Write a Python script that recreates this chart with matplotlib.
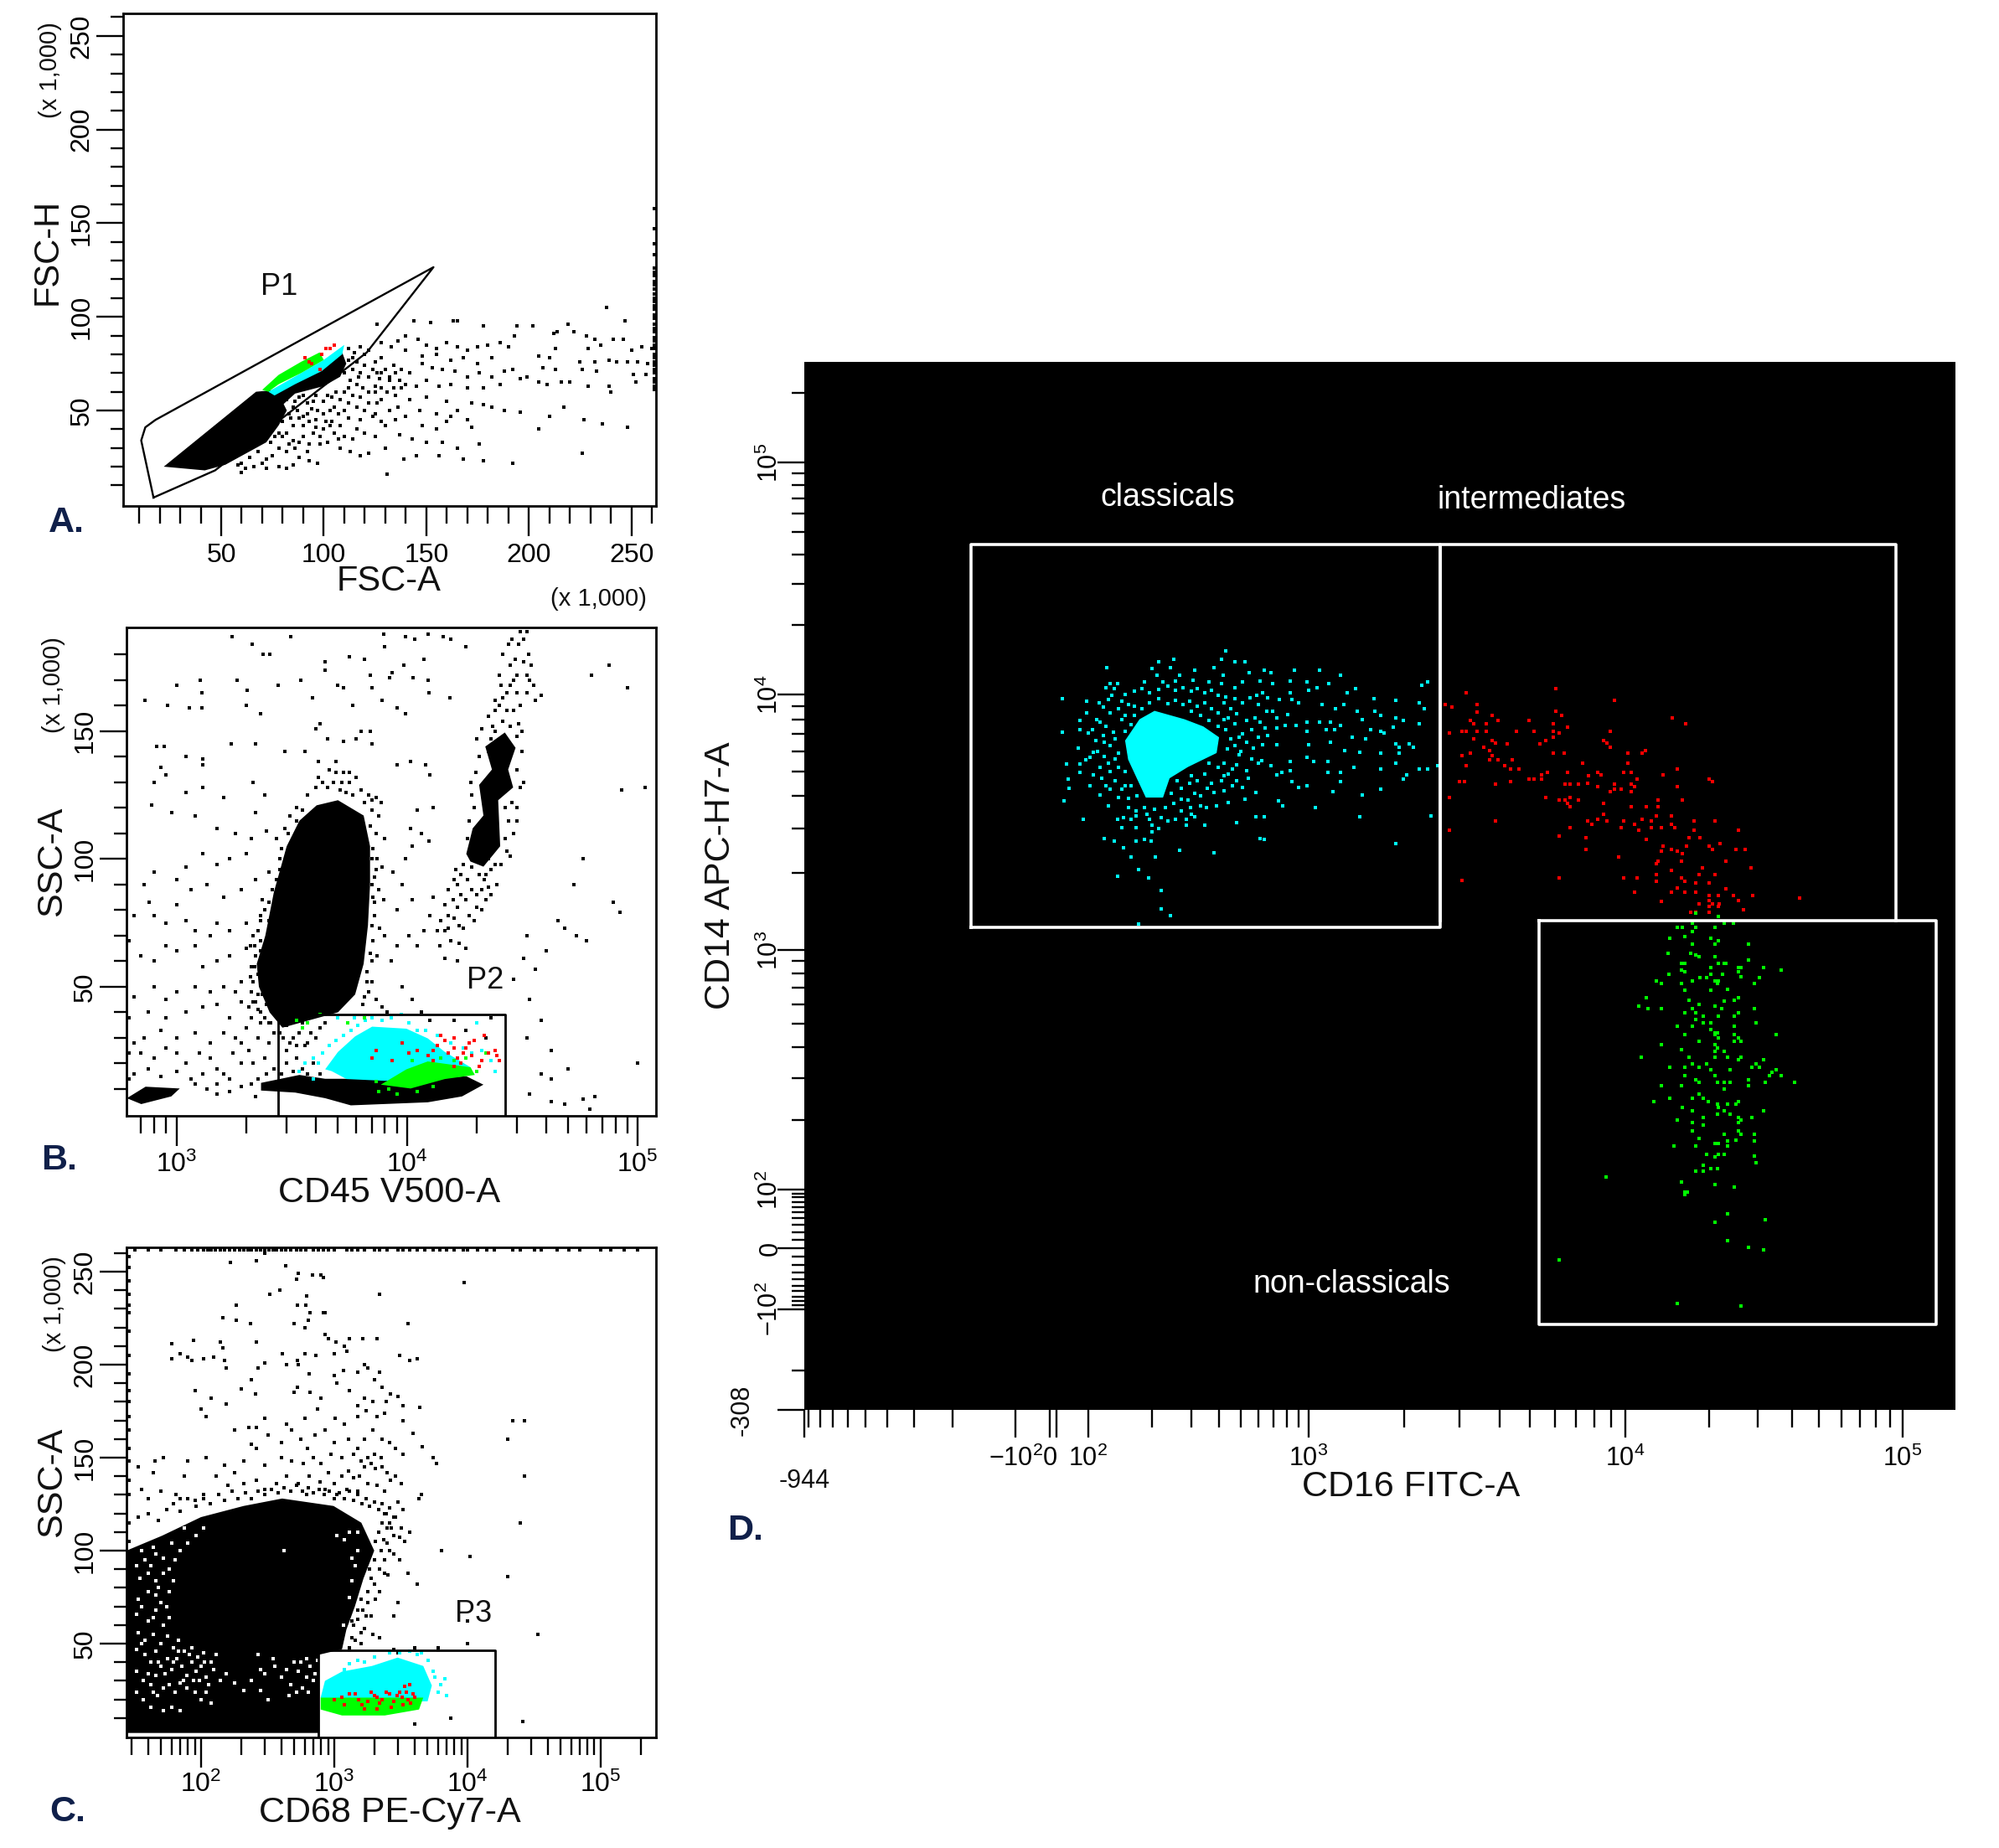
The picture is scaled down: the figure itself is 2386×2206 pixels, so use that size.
# flow cytometry gating figure, panels A-D
import numpy as np
import matplotlib
matplotlib.use('Agg')
import matplotlib.pyplot as plt

plt.rcParams['font.family'] = ['Liberation Sans', 'DejaVu Sans']
plt.rcParams['mathtext.fontset'] = 'custom'
plt.rcParams['mathtext.rm'] = 'Liberation Sans'
plt.rcParams['mathtext.default'] = 'regular'

W, H = 2386, 2206

# ---------- panel A : FSC-A / FSC-H (x 1,000)
a_ticks = [50, 100, 150, 200, 250]
a_minor = [10, 20, 30, 40, 60, 70, 80, 90, 110, 120, 130, 140, 160, 170, 180, 190, 210, 220, 230, 240, 260]
a_gate = [(17, 3.5), (47, 18), (121, 81), (153.5, 126.5), (18, 45), (13, 41), (11, 34), (17, 3.5)]
a_solid1 = [(22, 20), (67, 60), (77, 61), (82, 50), (78, 42), (72, 33), (67, 30), (52, 21), (42, 18)]
a_solid2 = [(73, 60), (86, 65), (99, 72), (109, 81), (111, 75), (108, 68), (100, 63), (86, 59), (77, 50)]
a_green = [(70, 61), (78, 69), (89, 76), (98, 81), (100, 77), (89, 70), (78, 64), (73, 60)]
a_cyan = [(73, 60), (89, 70), (100, 77), (110, 85), (109, 80), (99, 71), (86, 64), (76, 58)]
a_red = [(91, 78), (94, 75), (98, 72), (99, 80), (101, 83), (103, 83), (105, 85), (93, 76)]
a_edge = [61, 63, 65, 67, 70, 72, 74, 76, 78, 80, 83, 85, 87, 89, 92, 94, 96, 99, 101, 104, 106, 108, 110, 112,
          115, 117, 119, 122, 124, 126, 133, 139, 147, 158]
a_events = [(126, 96), (144, 98), (152, 97), (163, 98), (165, 98), (178, 95), (194, 95), (202, 95), (219, 96),
            (238, 105), (247, 98), (212, 91), (214, 92), (222, 92), (228, 90), (232, 88), (241, 88), (246, 88),
            (213, 83), (229, 83), (235, 85), (250, 82), (255, 84), (260, 83), (205, 79), (210, 78), (225, 76),
            (232, 76), (239, 77), (243, 76), (248, 76), (253, 76), (258, 75), (207, 73), (213, 72), (226, 72),
            (233, 71), (251, 69), (257, 69), (205, 65), (209, 64), (216, 65), (220, 65), (229, 63), (239, 63),
            (252, 65), (217, 52), (210, 47), (227, 45), (236, 43), (240, 60), (205, 40), (248, 41), (226, 27),
            (192, 22), (178, 23), (168, 24), (156, 26), (145, 26), (139, 24), (131, 16),
            (136, 87), (140, 90), (146, 88), (150, 85), (155, 83), (160, 86), (165, 84), (170, 82), (175, 84),
            (180, 85), (186, 86), (190, 84), (193, 90), (182, 78), (175, 75), (168, 78), (162, 77), (155, 80),
            (148, 79), (140, 82), (133, 84), (128, 86), (128, 78), (134, 74), (138, 72), (142, 70), (148, 75),
            (153, 73), (158, 72), (164, 71), (170, 68), (176, 70), (182, 68), (188, 71), (192, 72), (196, 67),
            (199, 68), (186, 64), (178, 62), (170, 62), (162, 64), (156, 63), (150, 66), (145, 63), (138, 62),
            (132, 66), (128, 70), (125, 60), (135, 58), (142, 56), (150, 57), (160, 55), (165, 50), (172, 54),
            (178, 53), (182, 52), (188, 50), (196, 49), (170, 45), (162, 47), (155, 48), (147, 50), (140, 47),
            (135, 45), (130, 42), (125, 48), (148, 42), (155, 40), (160, 44), (172, 41), (137, 37), (143, 35),
            (150, 33), (158, 33), (165, 30), (176, 32), (130, 30), (125, 36),
            (112, 83), (115, 81), (118, 84), (120, 80), (122, 82), (125, 76), (114, 72), (116, 76), (118, 70),
            (120, 74), (122, 68), (124, 72), (127, 67), (130, 72), (132, 68), (135, 70), (113, 66), (116, 64),
            (119, 62), (122, 60), (125, 63), (128, 56), (131, 60), (134, 62), (137, 66), (140, 64), (110, 60),
            (108, 56), (105, 52), (100, 55), (96, 58), (92, 54), (88, 57), (85, 52), (82, 56), (112, 54),
            (116, 52), (120, 50), (124, 47), (128, 44), (132, 50), (136, 52), (100, 48), (96, 45), (92, 48),
            (88, 46), (85, 42), (80, 44), (104, 44), (108, 42), (112, 46), (116, 40), (120, 38), (110, 36),
            (105, 38), (100, 40), (95, 38), (90, 36), (85, 34), (82, 38), (78, 38), (75, 42), (78, 30), (82, 28),
            (86, 30), (92, 28), (98, 32), (102, 33), (108, 30), (113, 28), (118, 26), (122, 27), (88, 25),
            (93, 23), (97, 22), (75, 26), (72, 24), (70, 22), (66, 20), (62, 19), (60, 17), (58, 21), (85, 21),
            (82, 19), (78, 20), (72, 19), (103, 50), (107, 48), (94, 51), (90, 42), (98, 36), (103, 42),
            (80, 36), (84, 46), (87, 50), (90, 47), (93, 44), (97, 50), (101, 44), (104, 57), (110, 50), (114, 58),
            (118, 57), (122, 54), (112, 62), (106, 60), (102, 58), (95, 55), (90, 58), (86, 55), (83, 48), (78, 46),
            (76, 36), (74, 33), (68, 28), (64, 25), (60, 22), (83, 32), (88, 33), (93, 32), (96, 41), (107, 35),
            (114, 35), (118, 45), (126, 54), (128, 62), (117, 68), (112, 77), (110, 70), (114, 78), (126, 70)]

# ---------- panel B : CD45 V500-A / SSC-A
b_ticks = [1000, 10000, 100000]
b_labels = ['$10^3$', '$10^4$', '$10^5$']
b_minor = [700, 800, 900, 2000, 3000, 4000, 5000, 6000, 7000, 8000, 9000, 20000, 30000, 40000, 50000, 60000, 70000, 80000, 90000]
b_yticks = [50, 100, 150]
b_yminor = [10, 20, 30, 40, 60, 70, 80, 90, 110, 120, 130, 140, 160, 170, 180]
b_gate = [(2755, -1), (2755, 39), (26500, 39), (26500, -1)]
b_main = [(5003, 123), (6467, 117), (6894, 105), (6894, 90), (6750, 74), (6467, 59), (5940, 47), (5003, 40), (2873, 34),
          (2527, 40), (2271, 50), (2223, 59), (2421, 70), (2637, 87), (2998, 105), (3406, 115), (4043, 121)]
b_band = [(2320, 12.4), (3406, 15.5), (4403, 14), (8010, 14), (12274, 14), (18030, 15), (21400, 11.7), (17280, 7.1),
          (12274, 4.8), (5690, 3.6), (4403, 6.4), (3265, 8.6), (2320, 9.4)]
b_left = [(607, 6.4), (732, 10.9), (1030, 10.2), (946, 7.1), (701, 4.1)]
b_tail = [(18030, 102), (19230, 112), (21400, 117), (20500, 129), (23300, 135), (21800, 144), (26500, 149.5), (29500, 143.5),
          (27400, 135), (28800, 128), (24800, 123), (25300, 105), (21400, 97), (18800, 99)]
b_cyan = [(4403, 17.7), (5003, 24.5), (5940, 30.6), (7040, 34.4), (9915, 33.6), (12274, 29.8), (14560, 24.5), (18820, 18.5),
          (18030, 15.5), (8010, 13.2), (5450, 13.9), (4695, 17)]
b_green = [(7674, 11.7), (9915, 17.7), (12274, 20.8), (18820, 18.5), (19640, 15.5), (14560, 13.9), (10340, 10.2)]
b_red = [(12300, 23), (12900, 25), (13500, 27), (14500, 29), (15000, 24), (15900, 26), (16500, 22), (17000, 20), (17500, 24),
         (18000, 26), (18500, 28), (19000, 23), (20500, 19), (21000, 21), (22500, 24), (24000, 25), (24500, 23),
         (25000, 21), (11000, 25), (10200, 24), (9500, 28), (8600, 21), (7300, 25), (7000, 22), (14000, 31), (16000, 30),
         (19500, 29), (21500, 31), (13000, 21), (16000, 19)]
b_cyan_extra = [(3900, 22), (4100, 20), (4300, 24), (3600, 20), (3400, 17), (4600, 27), (4900, 29), (5300, 31), (5700, 33), (6100, 35), (6600, 37), (7000, 38),
                (7800, 37), (8500, 38), (9400, 39), (10200, 36), (11000, 33), (12000, 33), (13500, 31), (15500, 28), (17500, 26), (19000, 24), (21000, 25),
                (23000, 21), (24000, 17), (3900, 14), (5000, 38), (5900, 38), (20000, 36)]
b_green_extra = [(3300, 37), (3700, 36), (3500, 34), (4200, 39), (5500, 36), (6500, 38), (7300, 13), (7500, 9), (8300, 10), (9000, 8), (11000, 9), (13000, 11),
                 (14000, 22), (16000, 21), (18000, 22), (20000, 17), (22000, 24), (10500, 21)]
b_events = [(1730, 187), (3130, 187), (2130, 184), (2360, 180), (2530, 180), (4400, 177), (5600, 179), (4400, 174), (6500, 178),
            (7900, 188), (8000, 183), (10800, 186), (9800, 187), (12300, 188), (14300, 187), (15500, 186), (18000, 183),
            (8600, 173), (6900, 172), (9700, 176), (11800, 178), (5000, 168), (1260, 170), (1280, 165), (1820, 170),
            (2020, 166), (2750, 168), (3450, 170), (3880, 163), (7000, 167), (8400, 171), (10600, 171), (12300, 170),
            (12400, 165), (15300, 163), (1000, 168), (730, 162), (910, 160), (1130, 159), (1280, 159), (2000, 160),
            (2300, 157), (5300, 167), (5800, 160), (7800, 162), (9000, 159), (9800, 157), (4200, 153), (4000, 151),
            (4500, 147), (5300, 146), (6000, 147), (6300, 150), (6900, 150), (7000, 145), (820, 144), (880, 144),
            (1100, 140), (1300, 139), (1300, 137), (1720, 145), (2200, 145), (2950, 142), (3600, 142), (4100, 138),
            (9000, 137), (10300, 138), (12000, 137), (12500, 133), (38000, 164), (63000, 172), (90000, 167), (75000, 176),
            (108000, 128), (85000, 127), (58000, 100), (53000, 90), (78000, 83), (84000, 79), (45000, 76), (48000, 73),
            (54000, 70), (60000, 68), (33000, 70), (40000, 64), (32000, 61), (36000, 57), (29000, 53), (34000, 45),
            (38000, 37), (33000, 30), (42000, 25), (42000, 14), (42000, 5), (48000, 4), (58000, 6), (65000, 7), (34000, 8),
            (38000, 16), (50000, 18), (100000, 20), (62000, 2),
            # left sparse region
            (800, 130), (850, 136), (900, 133), (1100, 126), (1300, 128), (1600, 124), (2150, 130), (2400, 125), (2200, 118),
            (780, 121), (950, 118), (1200, 117), (1500, 112), (1800, 110), (2100, 108), (2450, 111), (2700, 108), (2800, 100),
            (2000, 102), (1700, 100), (1500, 98), (1300, 102), (1100, 97), (1000, 92), (800, 95), (720, 90), (760, 83),
            (1150, 88), (1350, 90), (1600, 85), (1900, 88), (2200, 92), (2500, 95), (1000, 82), (800, 78), (900, 75),
            (650, 78), (1100, 76), (1200, 72), (1400, 70), (1500, 75), (1700, 72), (2000, 75), (2300, 78), (2500, 83),
            (620, 68), (700, 62), (800, 60), (900, 66), (1000, 64), (1200, 66), (1300, 58), (1500, 60), (1700, 62), (2000, 65),
            (2150, 70), (2300, 68), (2200, 62), (2400, 65), (2100, 58), (2250, 55), (1900, 52), (1800, 48), (1600, 50), (1400, 48),
            (1200, 50), (1000, 48), (900, 45), (800, 50), (650, 46), (620, 38), (750, 40), (900, 38), (1100, 40), (1300, 42),
            (1500, 43), (1700, 38), (1900, 44), (2050, 42), (2200, 44), (2350, 47), (2450, 43), (2100, 38), (2300, 36),
            (2500, 36), (2000, 34), (1800, 30), (1600, 32), (1400, 28), (1200, 32), (1000, 30), (850, 33), (720, 30),
            (650, 28), (620, 24), (700, 24), (800, 22), (900, 26), (1000, 24), (1100, 20), (1250, 24), (1400, 22), (1500, 18),
            (1600, 16), (1750, 24), (1900, 28), (2050, 25), (2250, 30), (2500, 28), (2650, 32), (2400, 22), (2150, 20),
            (1900, 20), (1700, 14), (1500, 12), (1300, 16), (1150, 14), (1000, 17), (850, 15), (750, 18), (650, 16), (620, 14),
            (1200, 12), (1350, 10), (1500, 8), (1700, 9), (1900, 11), (2100, 12), (2250, 14), (2450, 16), (2650, 18), (2200, 7),
            # around the teardrop and inside the gate
            (4600, 135), (4900, 138), (5300, 134), (5600, 130), (6000, 132), (4300, 130), (4000, 128), (3700, 125), (3300, 120),
            (3100, 117), (2950, 112), (4800, 130), (5100, 127), (5400, 126), (5800, 125), (6300, 127), (6800, 125), (7300, 124),
            (7700, 122), (7000, 119), (7500, 117), (6900, 113), (7300, 110), (8000, 108), (7100, 104), (7400, 100), (7800, 97),
            (7200, 93), (7500, 88), (7900, 84), (7100, 85), (7200, 78), (7600, 73), (8000, 70), (7100, 68), (7400, 62),
            (6900, 63), (6700, 56), (7000, 52), (6800, 48), (7300, 45), (7800, 42), (8200, 40), (6400, 43), (2620, 80),
            (2500, 76), (2400, 80), (2300, 76), (2250, 72), (2350, 84), (2180, 66), (2090, 66), (2180, 58), (2090, 54),
            (2100, 48), (2150, 44), (2250, 41), (2400, 38), (2550, 36), (2800, 32), (3000, 35), (3200, 30), (3500, 36),
            (3800, 32), (4200, 34), (3000, 25), (3300, 22), (3600, 27), (3900, 20), (3200, 17), (3500, 18), (2850, 16),
            (8500, 60), (9500, 50), (10500, 45), (11500, 40), (12500, 37), (16000, 37), (18000, 33), (22000, 30), (23000, 38),
            (9000, 66), (10200, 70), (11000, 66), (11800, 72), (12500, 78), (13000, 85), (10500, 84), (9000, 80), (9500, 90),
            (8700, 95), (9800, 100), (10500, 105), (11500, 110), (12400, 107), (10300, 112), (11000, 119), (13000, 120),
            (4100, 132), (4500, 128), (4900, 134), (5200, 130), (5600, 134), (6500, 122), (7000, 123), (3500, 119), (3300, 115),
            (3050, 110), (2850, 104), (2800, 96), (2700, 92), (2600, 88), (7000, 100), (7300, 96), (7000, 90), (7200, 83), (7000, 74),
            (7000, 60), (6700, 52), (6500, 46), (2500, 72), (2300, 64), (2150, 52), (2250, 47), (2300, 40), (2900, 30), (3100, 28),
            (3400, 32), (3700, 28), (4000, 30), (4400, 36), (3000, 20), (3300, 27), (3700, 16), (4200, 16), (3400, 13),
            # CD45 bright tail
            (14000, 76), (15000, 73), (16000, 77), (17500, 73), (19500, 76), (21000, 80), (14500, 82), (16500, 81), (18000, 84),
            (20000, 86), (22000, 84), (15000, 88), (16500, 90), (18200, 92), (20500, 94), (22500, 89), (16300, 96), (17500, 98),
            (15500, 68), (16800, 67), (18000, 65), (14500, 61), (16500, 60), (13800, 66), (21500, 92), (23000, 96), (24500, 90),
            (25500, 98), (27000, 103), (28000, 101), (26500, 108), (29000, 110), (27500, 115), (26500, 120), (30000, 115),
            (19500, 120), (18500, 115), (18200, 108), (19000, 125), (18800, 130), (19800, 134), (20500, 140), (20000, 147),
            (21000, 151), (22500, 156), (24000, 162), (25500, 168), (27000, 165), (29000, 158), (30500, 153), (31500, 150),
            (31000, 160), (33000, 165), (34000, 170), (30000, 172), (28000, 176), (26000, 180), (27500, 184), (29500, 178),
            (32000, 177), (33500, 180), (32000, 186), (30500, 184), (33000, 172), (25000, 172), (24000, 158), (23500, 152),
            (27000, 158), (26000, 154), (25000, 160), (31500, 142), (30000, 135), (31000, 128), (28500, 122), (30000, 120),
            (27500, 130), (32000, 130), (28500, 186), (31000, 189), (33000, 189), (34500, 176), (35500, 168), (36000, 162),
            (17000, 86), (15800, 84), (19000, 88), (21000, 88), (23000, 86), (18500, 78), (16800, 74), (15000, 78), (20000, 81),
            (22000, 94), (24000, 98), (17000, 94), (19000, 97), (16000, 92), (14500, 72), (13500, 72), (22500, 100), (24000, 106),
            (28000, 152), (30000, 148), (24000, 150), (26000, 163), (28000, 168), (30000, 165), (23000, 147), (22500, 142), (29000, 170)]

# ---------- panel C : CD68 PE-Cy7-A / SSC-A
c_ticks = [100, 1000, 10000, 100000]
c_labels = ['$10^2$', '$10^3$', '$10^4$', '$10^5$']
c_minor = [30, 40, 50, 60, 70, 80, 90, 200, 300, 400, 500, 600, 700, 800, 900, 2000, 3000, 4000, 5000, 6000, 7000, 8000, 9000,
           20000, 30000, 40000, 50000, 60000, 70000, 80000, 90000, 200000]
c_yticks = [50, 100, 150, 200, 250]
c_yminor = [10, 20, 30, 40, 60, 70, 80, 90, 110, 120, 130, 140, 160, 170, 180, 190, 210, 220, 230, 240, 260]
c_gate = [(764, -1), (764, 46.4), (16180, 46.4), (16180, -1)]
c_solid = [(27.6, 100), (51, 108), (100, 118), (209, 124), (407, 128), (989, 124), (1600, 115), (2000, 100), (1660, 85),
           (1431, 70), (1235, 57.5), (1146, 47), (764, 44), (764, 2), (27.6, 2)]
c_cyan = [(792, 21), (853, 30), (1146, 35), (1923, 38), (2998, 42.5), (4669, 38), (5415, 27.5), (5030, 19), (2400, 19), (853, 19)]
c_green = [(792, 21), (1146, 21), (2400, 21), (4669, 21), (4338, 14.6), (2400, 11.4), (1146, 11.4), (792, 14.6)]
c_red = [(1150, 21), (1300, 23), (1450, 23), (1530, 20), (1620, 17), (1700, 15), (1800, 19), (1900, 24), (2000, 22), (2100, 21),
         (2200, 18), (2300, 20), (2450, 24), (2600, 23), (2800, 19), (2950, 22), (3100, 24), (3250, 21), (3400, 27), (3500, 24),
         (3600, 20), (3750, 18), (3900, 23), (4050, 21), (1000, 20), (1200, 17), (2700, 16), (3300, 17), (2100, 15), (3700, 28)]
c_cyan_extra = [(5700, 32), (6300, 28), (7000, 22), (6000, 24), (5500, 35), (4200, 44), (3700, 46), (2600, 45), (2000, 43),
                (1700, 40), (1500, 41), (1300, 39), (1200, 36), (6800, 31), (5100, 41), (4500, 45), (3100, 45)]
c_top = [32, 40, 50, 65, 75, 85, 95, 105, 112, 120, 128, 140, 150, 165, 180, 195, 210, 225, 240, 260, 280, 300, 325, 350, 370, 400, 430, 470, 520, 560, 610,
         700, 760, 830, 900, 1000, 1250, 1350, 1500, 1700, 2000, 2200, 2500, 3000, 3300, 3700, 4200, 4800, 5500, 6200, 7000,
         8000, 9300, 10000, 12000, 14000, 16000, 22000, 25000, 32000, 36000, 47000, 58000, 70000, 100000, 120000, 150000, 190000]
c_left = [5, 8, 12, 18, 22, 30, 36, 42, 55, 62, 70, 85, 95, 105, 115, 130, 138, 148, 155, 165, 172, 180, 186, 195, 205, 218, 228, 232,
          238, 245, 252, 258]
c_events = [(167, 255), (300, 260), (262, 256), (435, 253), (540, 249), (520, 246), (690, 248), (800, 248), (830, 247), (9500, 244),
            (330, 238), (185, 232), (145, 225), (390, 240), (620, 237), (660, 228), (530, 232), (610, 232), (830, 228), (860, 228),
            (2200, 238), (185, 224), (235, 222), (500, 222), (600, 220), (640, 224), (3600, 222), (88, 213), (140, 212), (60, 211),
            (145, 209), (260, 212), (850, 216), (900, 214), (1030, 212), (1300, 214), (1650, 214), (2100, 214), (1200, 210),
            (1250, 207), (1000, 206), (410, 206), (530, 202), (60, 203), (70, 206), (80, 204), (85, 202), (105, 203), (125, 204),
            (150, 202), (155, 198), (270, 198), (300, 201), (440, 200), (540, 200), (600, 206), (730, 205), (1180, 197), (1800, 198),
            (3100, 205), (3700, 202), (4200, 203), (2200, 196), (1700, 200), (2000, 192), (1500, 196), (1000, 194), (650, 195), (530, 188),
            (240, 192), (200, 187), (255, 184), (500, 185), (660, 185), (800, 182), (1050, 190), (1300, 186), (1500, 178), (1700, 182),
            (1950, 180), (2300, 188), (2450, 180), (2650, 184), (3000, 183), (3300, 178), (4400, 177), (3300, 170), (2400, 174), (2100, 172),
            (1750, 175), (1500, 172), (1200, 168), (1020, 171), (750, 176), (600, 171), (440, 168), (300, 171), (260, 166), (230, 166),
            (90, 186), (120, 182), (100, 176), (110, 172), (155, 179), (180, 165), (240, 157), (260, 155), (320, 162), (400, 158),
            (480, 165), (560, 160), (630, 155), (720, 162), (850, 165), (1000, 158), (1280, 160), (1500, 155), (1700, 160), (1950, 165),
            (2300, 160), (2600, 158), (2900, 155), (3300, 152), (3900, 163), (4600, 156), (5500, 150), (5900, 147), (2250, 150), (2000, 152),
            (1800, 150), (1600, 148), (1400, 152), (1150, 150), (950, 152), (800, 147), (700, 150), (590, 147), (480, 148), (400, 150),
            (300, 146), (210, 148), (180, 142), (150, 146), (110, 150), (80, 148), (52, 150), (45, 148), (34, 145), (44, 142), (75, 140),
            (130, 140), (160, 135), (210, 136), (260, 138), (300, 133), (370, 136), (440, 140), (540, 136), (650, 140), (780, 137),
            (900, 142), (1000, 136), (1150, 140), (1280, 143), (1400, 139), (1550, 140), (1700, 145), (1900, 147), (2050, 144), (2300, 145),
            (2500, 142), (2650, 138), (2900, 140), (3200, 136), (4300, 128), (4500, 130), (1800, 136), (2100, 135), (2400, 132), (1500, 132),
            (1250, 133), (1050, 130), (850, 133), (620, 130), (50, 132), (65, 130), (70, 128), (90, 127), (105, 130), (36, 133), (40, 128),
            (3000, 126), (3300, 122), (2900, 118), (3200, 112), (3700, 110), (3100, 107), (3400, 105), (2700, 112), (2500, 104), (2800, 98),
            (3100, 95), (2400, 95), (2200, 90), (2550, 87), (1900, 85), (2200, 78), (2050, 74), (1800, 72), (1650, 68), (1900, 65),
            (1500, 63), (1400, 60), (1700, 58), (1950, 55), (2200, 53), (1450, 52), (1600, 50), (1300, 48), (2800, 65), (3000, 72),
            (3600, 88), (4200, 82), (6400, 100), (10500, 97), (20000, 86), (25000, 115), (27000, 140), (20000, 160), (27000, 170), (22000, 170),
            (34000, 55), (26000, 8), (7500, 10), (4000, 7), (10000, 62), (10000, 50), (2800, 47), (3000, 45), (4000, 48), (6000, 48),
            # shoulder above the black mass
            (34, 118), (40, 120), (48, 116), (55, 122), (62, 125), (70, 121), (80, 128), (92, 124), (105, 128), (118, 125), (135, 130), (150, 127),
            (170, 132), (190, 128), (215, 131), (240, 128), (270, 132), (300, 130), (340, 133), (380, 131), (420, 134), (470, 132), (520, 135), (580, 132),
            (640, 134), (700, 131), (770, 133), (840, 130), (920, 132), (1000, 128), (1100, 131), (1200, 128), (1300, 132), (1400, 127), (1500, 130),
            (1620, 125), (1750, 128), (1850, 124), (2000, 126), (2150, 122), (2300, 125), (2450, 120), (2600, 123), (2800, 118), (2300, 115), (2500, 112),
            (2150, 110), (2350, 106), (2050, 105), (2250, 100), (2000, 95), (1850, 90), (2000, 82), (1780, 78), (1600, 74), (1750, 65), (1500, 68),
            (1350, 62), (1600, 56), (1350, 53), (2400, 120), (2600, 115), (2800, 108), (2600, 100), (2400, 88)]
# light specks inside the black mass
c_holes = [(33, 92), (38, 95), (42, 92), (46, 98), (52, 96), (35, 85), (40, 88), (46, 84), (52, 88), (58, 90), (64, 95), (70, 100),
           (80, 104), (92, 108), (105, 112), (34, 74), (40, 78), (46, 76), (50, 72), (58, 78), (62, 84), (33, 66), (40, 62), (46, 68), (52, 60),
           (58, 64), (34, 56), (38, 52), (44, 55), (50, 50), (56, 54), (62, 48), (68, 52), (75, 46), (85, 48), (95, 43), (105, 45), (120, 40),
           (33, 47), (38, 44), (42, 40), (46, 46), (50, 38), (56, 42), (60, 36), (66, 42), (72, 38), (78, 33), (85, 40), (92, 35), (100, 38),
           (110, 32), (125, 36), (140, 30), (155, 34), (33, 35), (37, 30), (42, 28), (46, 33), (52, 26), (58, 28), (64, 24), (70, 29), (78, 26),
           (88, 30), (100, 20), (110, 24), (120, 18), (33, 24), (37, 20), (42, 16), (47, 22), (52, 14), (60, 16), (70, 14), (180, 29), (210, 25),
           (240, 30), (280, 36), (300, 34), (360, 38), (400, 32), (440, 36), (470, 28), (500, 40), (540, 35), (580, 26), (620, 32), (660, 38),
           (700, 30), (720, 34), (280, 25), (320, 20), (460, 22), (520, 24), (640, 24), (270, 44), (350, 42), (620, 42), (560, 40), (750, 41),
           (36, 50), (40, 34), (44, 24), (48, 40), (54, 34), (62, 40), (68, 46), (74, 30), (82, 44), (90, 24), (98, 30), (106, 40), (114, 28), (130, 44),
           (36, 70), (44, 64), (48, 80), (55, 70), (36, 100), (44, 102), (60, 104), (75, 112), (1050, 108), (1200, 106), (1300, 110), (1500, 110),
           (1350, 96), (1500, 100), (1450, 92), (1350, 84), (1300, 75), (1180, 60), (420, 100)]

# ---------- panel D : CD16 FITC-A / CD14 APC-H7-A (biexponential)
d_xpos = [960, 1212, 1253, 1299, 1562, 1940, 2271, 2334]
d_xval = [-944, -100, 0, 100, 1000, 10000, 100000, 155000]
d_ypos = [1683, 1563, 1490, 1420, 1134, 829, 552, 432]
d_yval = [-308, -100, 0, 100, 1000, 10000, 100000, 271000]
d_gate_classical = [(-164, 1226), (-164, 44260), (2600, 44260), (2600, 1226), (-164, 1226)]
d_gate_intermediate = [(2600, 1300), (2600, 44260), (94600, 44260), (94600, 1300)]
d_gate_nonclassical = [(5340, 1300), (132000, 1300), (132000, -119), (5340, -119), (5340, 1300)]
d_core = [(175, 8000), (205, 8630), (280, 8000), (340, 7500), (400, 6800), (390, 5900), (290, 5200), (240, 4700), (224, 3950),
          (187, 3950), (170, 4700), (155, 5560), (150, 6600)]
d_cyan = [(427, 15400), (410, 14200), (250, 14200), (215, 13800), (470, 13800), (520, 13800), (200, 12900), (243, 13100), (123, 13100),
          (311, 12700), (378, 13100), (210, 12100), (267, 12100), (419, 12100), (545, 12400), (636, 12700), (680, 12400), (865, 12700),
          (1080, 12700), (1260, 12100), (127, 11100), (139, 11100), (122, 10650), (133, 10600), (184, 11300), (224, 11300), (256, 11400),
          (305, 11500), (362, 11300), (410, 11100), (510, 11300), (610, 11400), (695, 11100), (825, 11400), (985, 11300), (1160, 11100),
          (1410, 10600), (1325, 10200), (1060, 10650), (1000, 10400), (24, 9600), (92, 9400), (113, 9250), (125, 9550), (145, 9400), (155, 9100),
          (470, 10650), (625, 10200), (825, 10200), (845, 9550), (900, 9250), (1100, 9100), (1290, 9100), (1420, 8630), (1480, 7950), (1215, 8780),
          (596, 9100), (740, 9550), (650, 8630), (810, 8340), (985, 7800), (1080, 7800), (1170, 7800), (1260, 7540), (725, 7420), (790, 7540),
          (880, 7540), (985, 7180), (1135, 7300), (1205, 7300), (1570, 7300), (1370, 6810), (1510, 6700), (92, 8480), (69, 7930), (114, 7800),
          (69, 7300), (24, 7100), (100, 7050), (109, 6590), (119, 6480), (63, 6150), (106, 5960), (90, 5560), (111, 6000), (33, 5340), (69, 5340),
          (102, 5660), (114, 5200), (125, 5380), (69, 4950), (106, 4860), (38, 4650), (102, 4400), (40, 4280), (116, 4700), (122, 4400), (114, 4040),
          (28, 3840), (125, 3660), (82, 3240), (155, 3910), (145, 4250), (139, 3240), (148, 3290), (169, 3350), (189, 3400), (219, 3290), (256, 3240),
          (286, 3240), (311, 3320), (478, 3150), (583, 3320), (636, 3320), (344, 3070), (286, 3080), (200, 3080), (145, 3010), (169, 3010), (214, 2980),
          (200, 2890), (119, 2740), (134, 2670), (169, 2670), (184, 2710), (197, 2670), (610, 2740), (636, 2700), (148, 2520), (267, 2450), (378, 2400),
          (160, 2320), (207, 2320), (173, 2070), (139, 1950), (193, 1910), (220, 1710), (220, 1445), (243, 1365), (173, 1260),
          (458, 5100), (530, 5030), (596, 5380), (680, 5280), (725, 4860), (760, 4950), (825, 5030), (845, 4550), (900, 4320), (985, 4400), (825, 5470),
          (985, 5660), (1040, 5470), (1150, 5470), (1260, 4950), (1260, 4550), (1387, 5200), (1150, 4950), (1300, 6050), (1450, 5960), (1195, 4180),
          (1480, 4040), (735, 3840), (770, 3660), (1050, 3620), (1450, 3320), (570, 6150), (625, 6370), (725, 6370), (1000, 6370), (1170, 6480),
          (458, 4400), (510, 4320), (583, 4120), (520, 3900), (440, 3780), (390, 3660), (332, 3660), (299, 3620),
          (1610, 9600), (1890, 9500), (2230, 9300), (2270, 11000), (2380, 11300), (2320, 8800), (1620, 8600), (1690, 8300), (1890, 8100), (1990, 7900),
          (2230, 7650), (1850, 7450), (1690, 7200), (1730, 7050), (1890, 6400), (1930, 6200), (2080, 6400), (2140, 6200), (1690, 5900), (1930, 5900),
          (1890, 5400), (1690, 5100), (2230, 5100), (2380, 5100), (2550, 5250), (2040, 4850), (1990, 4650), (1690, 4270), (2440, 3350), (1890, 2600)]
# halo around the core, denser than the outer cloud
d_cyan_halo = [(130, 9900), (150, 10000), (165, 10300), (180, 10600), (195, 10200), (215, 10500), (235, 10900), (255, 10400), (275, 10700), (300, 10300),
               (320, 10600), (345, 10200), (370, 10400), (395, 9900), (430, 9800), (470, 9600), (510, 9300), (550, 9700), (590, 9900), (660, 9700),
               (118, 8900), (128, 8500), (140, 8800), (150, 8300), (110, 8000), (122, 7500), (132, 7100), (105, 7300), (118, 6900), (128, 6300), (135, 5600),
               (120, 5700), (128, 5000), (140, 5200), (135, 4600), (150, 4400), (128, 4250), (140, 3950), (155, 3600), (168, 3500), (185, 3600), (205, 3560),
               (230, 3600), (250, 3750), (270, 3900), (290, 3850), (310, 4100), (330, 4000), (355, 4300), (380, 4150), (410, 4600), (440, 4900), (480, 5300),
               (500, 6000), (530, 6500), (510, 7000), (560, 7300), (530, 7900), (580, 8100), (610, 7800), (640, 7400), (480, 8400), (450, 8800), (420, 9300),
               (690, 8600), (720, 8100), (600, 6800), (660, 6900), (560, 5600), (620, 5500), (480, 4600), (540, 4700), (420, 4200), (350, 3600), (270, 3500),
               (160, 3250), (300, 3400), (235, 3200), (195, 3250), (440, 8100), (470, 7700), (490, 6800), (470, 6300), (490, 5800), (145, 8000), (150, 7200),
               (165, 9000), (180, 8800), (195, 9300), (215, 9600), (235, 9200), (255, 9500), (275, 9100), (295, 9400), (320, 9000), (345, 9300), (370, 8800),
               (395, 8500), (420, 8000), (300, 8600), (330, 8300), (360, 7900), (395, 7500), (430, 7300), (450, 6700), (435, 6100), (420, 5400), (395, 5200),
               (360, 5400), (345, 4900), (320, 4600), (295, 4500), (270, 4300), (245, 4100), (260, 4600), (160, 4400), (170, 4000), (150, 5000), (140, 5900),
               (135, 6700), (160, 7600), (165, 8300), (350, 6200), (420, 4800), (370, 4500), (300, 4800)]
d_red = [(2700, 9100), (2830, 8900), (3150, 10200), (3400, 9100), (3400, 8550), (3250, 7900), (3320, 7650), (3800, 8300), (3970, 7900), (3630, 7650), (3630, 7200),
         (3400, 7200), (3150, 7200), (3050, 7200), (2780, 7050), (3320, 6700), (3800, 6600), (3900, 6450), (4250, 6400), (4530, 7200), (4970, 7900), (5160, 7200),
         (5380, 6400), (5600, 6600), (5930, 7200), (5930, 6800), (6170, 7050), (6570, 7450), (5930, 7650), (6300, 8300), (6050, 8600), (6050, 10600), (9250, 9500),
         (14800, 8100), (16500, 7650), (8960, 7200), (8550, 6600), (8760, 6450), (8960, 6200), (10200, 5900), (11500, 5900), (11800, 6050), (5930, 5900), (6400, 5900),
         (7350, 5400), (10200, 5400), (3050, 5750), (3250, 5900), (3580, 6200), (3720, 6050), (3800, 5750), (3720, 5550), (3970, 5550), (4400, 5550), (4150, 5250),
         (4350, 5100), (4620, 5100), (3150, 5250), (5450, 4850), (5680, 4950), (6570, 4950), (7650, 4800), (8200, 4950), (8400, 4850), (9900, 4950), (10500, 4950),
         (15400, 5100), (13700, 4850), (3000, 4570), (3100, 4570), (3900, 4470), (4350, 4570), (4970, 4650), (5160, 4650), (5450, 4650), (6450, 4470), (6700, 4470),
         (7100, 4470), (7600, 4500), (8200, 4350), (9250, 4470), (11000, 4650), (10500, 4470), (10800, 4350), (9250, 4270), (9700, 4270), (8960, 4170), (10500, 4170),
         (15400, 4350), (20000, 4650), (20600, 4570), (2780, 3950), (5600, 3950), (6170, 3850), (6450, 3850), (6570, 3750), (6700, 3650), (6700, 3950), (7100, 3850),
         (8550, 3750), (10500, 3650), (11900, 3650), (13100, 3850), (13100, 3650), (16000, 3850), (8550, 3400), (8200, 3250), (7850, 3100), (7600, 3200), (8760, 3200),
         (9900, 3200), (10800, 3100), (9700, 3020), (11500, 3250), (12400, 3200), (12900, 3350), (12400, 3020), (13500, 3020), (14700, 3350), (14700, 3100), (15100, 3020),
         (11200, 2950), (6700, 3020), (6170, 2800), (3900, 3200), (2780, 2950), (7500, 2750), (11900, 2700), (17000, 2750), (17700, 2950), (17700, 3200), (21000, 3200),
         (25500, 2950), (18600, 2750), (16600, 2560), (22000, 2600), (13700, 2550), (13500, 2430), (14700, 2480), (15400, 2430), (20000, 2550), (20600, 2480), (25000, 2480),
         (27000, 2480), (7500, 2480), (9500, 2310), (16000, 2380), (13100, 2230), (12900, 2180), (15900, 2230), (23000, 2230), (28300, 2100), (18900, 2100), (12900, 1980),
         (14700, 2050), (18400, 1980), (21000, 1980), (6170, 1920), (9900, 1920), (11000, 1920), (15900, 1920), (12900, 1860), (16400, 1860), (3050, 1870), (17900, 1830),
         (20000, 1830), (15400, 1750), (23000, 1730), (10800, 1680), (14700, 1680), (16400, 1680), (18000, 1680), (20000, 1640), (21700, 1640), (24500, 1640), (28800, 1640),
         (42500, 1600), (13500, 1550), (18400, 1520), (20600, 1520), (21800, 1520), (20000, 1560), (20000, 1480), (21700, 1480), (25500, 1560), (26600, 1440), (17200, 1400),
         (17900, 1400), (20000, 1400)]
d_green = [(18000, 1390), (21700, 1355), (15400, 1230), (16000, 1230), (17500, 1270), (18000, 1230), (21000, 1230), (22700, 1270), (24500, 1270), (17500, 1180),
           (14500, 1115), (16400, 1130), (20400, 1115), (17500, 1055), (21000, 1055), (21700, 1085), (27900, 1055), (14300, 970), (17200, 970), (18000, 955), (18500, 940),
           (21000, 940), (27900, 910), (21700, 880), (22700, 880), (23000, 880), (20400, 850), (15900, 880), (25500, 850), (26200, 850), (31500, 850), (36500, 830),
           (16400, 880), (15900, 830), (16400, 816), (25500, 816), (20400, 795), (22400, 795), (14400, 795), (18600, 770), (19700, 770), (21000, 745), (21700, 745),
           (26200, 775), (30500, 770), (12900, 745), (13500, 730), (15900, 730), (17500, 745), (29100, 730), (21500, 730), (23400, 690), (16400, 685), (20400, 685),
           (11900, 640), (25500, 640), (24700, 625), (17000, 625), (18500, 600), (22700, 620), (11200, 592), (21000, 592), (12100, 575), (13500, 575), (22300, 575),
           (29100, 575), (16400, 555), (17500, 575), (18000, 555), (25500, 555), (19100, 535), (21700, 535), (24700, 535), (18000, 520), (20400, 505), (19100, 505),
           (29700, 505), (15400, 490), (17500, 490), (24700, 490), (20400, 475), (21000, 460), (21500, 460), (16400, 452), (21000, 450), (24700, 452), (35000, 452),
           (25500, 438), (18400, 425), (21700, 438), (24700, 425), (26200, 425), (13500, 412), (21000, 410), (21500, 398), (15900, 392), (22700, 386), (21000, 386),
           (11400, 365), (17000, 365), (21000, 365), (23400, 365), (26200, 365), (25500, 355), (31500, 355), (17500, 342), (19700, 342), (29700, 342), (14500, 332),
           (16400, 332), (18500, 332), (20400, 324), (23900, 324), (28600, 332), (30500, 332), (34900, 324), (33900, 315), (33000, 305), (16400, 305), (21000, 305),
           (36500, 305), (18000, 295), (18500, 287), (21500, 287), (22700, 287), (23900, 287), (27900, 295), (27900, 278), (32000, 287), (40700, 287), (13500, 278),
           (15900, 278), (22700, 270), (18500, 257), (14500, 247), (17500, 247), (19100, 247), (19900, 238), (12700, 238), (25500, 238), (21500, 233), (23400, 233),
           (25000, 233), (16000, 225), (21700, 225), (17500, 218), (22700, 218), (21500, 212), (23900, 212), (31500, 218), (25500, 205), (28600, 205), (19100, 205),
           (15400, 200), (26200, 200), (25500, 196), (17500, 196), (19100, 190), (17500, 180), (25500, 180), (22700, 175), (26200, 175), (29100, 175), (18500, 168),
           (23400, 163), (25000, 165), (29100, 163), (21000, 159), (21700, 159), (15000, 155), (18000, 155), (23400, 155), (19700, 143), (21700, 143), (22700, 143),
           (29100, 141), (21000, 140), (29700, 132), (19100, 128), (18000, 121), (19100, 121), (20400, 124), (21500, 124), (8700, 114), (15900, 108), (21000, 105),
           (24700, 103), (16400, 94), (16700, 94), (16400, 87), (23400, 48), (32000, 38), (21000, 34), (23400, 9), (27900, 1), (31500, -2), (6170, -14), (15400, -85), (26200, -91)]


def box(l, t, r, b):
    return fig.add_axes([l / W, 1 - b / H, (r - l) / W, (b - t) / H])


def txt(x, y, s, size, rot=0, color='#111111', **kw):
    fig.text(x / W, 1 - y / H, s, fontsize=size, rotation=rot, ha='center', va='center', color=color, **kw)


def events(ax, pts, color='black', s=8, z=3):
    p = np.array(pts, dtype=float)
    ax.scatter(p[:, 0], p[:, 1], s=s, c=color, marker='s', linewidths=0, zorder=z)


def frame(ax, xpad=3):
    for sp in ax.spines.values():
        sp.set_linewidth(2.0)
    ax.tick_params(axis='x', which='major', length=26, width=1.7, pad=xpad, labelsize=23)
    ax.tick_params(axis='x', which='minor', length=15, width=1.7)
    ax.tick_params(axis='y', which='major', length=23, width=1.7, pad=2, labelsize=23, labelrotation=90)
    ax.tick_params(axis='y', which='minor', length=11, width=1.7)
    for t in ax.get_yticklabels():
        t.set_va('center')


fig = plt.figure(figsize=(W / 100, H / 100), dpi=100, facecolor='white')

# A
ax = box(147, 16, 783, 604)
ax.set_xlim(2.2, 262)
ax.set_ylim(-1, 262)
ax.set_xticks(a_ticks)
ax.set_xticks(a_minor, minor=True)
ax.set_yticks(a_ticks)
ax.set_yticks(a_minor, minor=True)
frame(ax, xpad=6)
ax.fill(*zip(*a_solid1), color='black', lw=0)
ax.fill(*zip(*a_solid2), color='black', lw=0)
events(ax, a_events)
ax.fill(*zip(*a_cyan), color='#00ffff', lw=0, zorder=4)
ax.fill(*zip(*a_green), color='#00ff00', lw=0, zorder=4)
events(ax, a_red, '#ff0000', z=5)
ax.scatter([261] * len(a_edge), a_edge, s=9, c='black', marker='s', linewidths=0, zorder=3)
ax.plot(*zip(*a_gate), color='black', lw=1.7, zorder=6)

# B
ax = box(151, 749, 783, 1332)
ax.set_xscale('log')
ax.set_xlim(605, 120000)
ax.set_ylim(-0.5, 190.6)
ax.set_xticks(b_ticks, b_labels)
ax.set_xticks(b_minor, [''] * len(b_minor), minor=True)
ax.set_yticks(b_yticks)
ax.set_yticks(b_yminor, minor=True)
frame(ax, xpad=5)
ax.fill(*zip(*b_main), color='black', lw=0)
ax.fill(*zip(*b_band), color='black', lw=0)
ax.fill(*zip(*b_left), color='black', lw=0)
ax.fill(*zip(*b_tail), color='black', lw=0)
events(ax, b_events)
ax.fill(*zip(*b_cyan), color='#00ffff', lw=0, zorder=4)
events(ax, b_cyan_extra, '#00ffff', z=4)
ax.fill(*zip(*b_green), color='#00ff00', lw=0, zorder=5)
events(ax, b_green_extra, '#00ff00', z=5)
events(ax, b_red, '#ff0000', z=6)
ax.plot(*zip(*b_gate), color='black', lw=2, zorder=7)

# C
ax = box(151, 1489, 783, 2074)
ax.set_xscale('log')
ax.set_xlim(27.6, 261000)
ax.set_ylim(-0.4, 263)
ax.set_xticks(c_ticks, c_labels)
ax.set_xticks(c_minor, [''] * len(c_minor), minor=True)
ax.set_yticks(c_yticks)
ax.set_yticks(c_yminor, minor=True)
frame(ax)
ax.fill(*zip(*c_solid), color='black', lw=0)
events(ax, c_events)
events(ax, c_holes, 'white', z=3.5)
ax.scatter(c_top, [261.5] * len(c_top), s=10, c='black', marker='s', linewidths=0, zorder=3)
ax.scatter([29] * len(c_left), c_left, s=10, c='black', marker='s', linewidths=0, zorder=3)
ax.fill(*zip(*c_cyan), color='#00ffff', lw=0, zorder=4)
events(ax, c_cyan_extra, '#00ffff', z=4)
ax.fill(*zip(*c_green), color='#00ff00', lw=0, zorder=5)
events(ax, c_red, '#ff0000', z=6)
ax.plot(*zip(*c_gate), color='black', lw=2, zorder=7)

# D
d_tx = np.arcsinh(np.array(d_xval) / 50)
d_ty = np.arcsinh(np.array(d_yval) / 50)


def xf(v):
    return np.interp(np.arcsinh(np.asarray(v) / 50), d_tx, d_xpos)


def xi(p):
    return 50 * np.sinh(np.interp(p, d_xpos, d_tx))


def yf(v):
    return np.interp(np.arcsinh(np.asarray(v) / 50), d_ty, np.array(d_ypos) * -1.0)


def yi(p):
    return 50 * np.sinh(np.interp(p, np.array(d_ypos) * -1.0, d_ty))


ax = box(960, 432, 2334, 1683)
ax.set_facecolor('black')
ax.set_xscale('function', functions=(xf, xi))
ax.set_yscale('function', functions=(yf, yi))
ax.set_xlim(-944, 155000)
ax.set_ylim(-308, 271000)
d_major_x = [-944, -100, 0, 12, 100, 1000, 10000, 100000]
d_major_xl = ['', '$-10^2$', '0', '', '$10^2$', '$10^3$', '$10^4$', '$10^5$']
d_minor_x = [-900, -800, -700, -600, -500, -400, -300, -200, 200, 300, 400, 500, 600, 700, 800, 900, 2000, 3000, 4000, 5000, 6000,
             7000, 8000, 9000, 20000, 30000, 40000, 50000, 60000, 70000, 80000, 90000]
d_major_y = [-308, -100, 0, 100, 1000, 10000, 100000]
d_major_yl = ['', '$-10^2$', '0', '$10^2$', '$10^3$', '$10^4$', '$10^5$']
d_minor_y = [-200, -90, -80, -70, -60, -50, -40, -30, -20, -10, 10, 20, 30, 40, 50, 60, 70, 80, 90, 200, 300, 400, 500, 600, 700, 800, 900,
             2000, 3000, 4000, 5000, 6000, 7000, 8000, 9000, 20000, 30000, 40000, 50000, 60000, 70000, 80000, 90000, 200000]
ax.set_xticks(d_major_x, d_major_xl)
ax.set_xticks(d_minor_x, [''] * len(d_minor_x), minor=True)
ax.set_yticks(d_major_y, d_major_yl)
ax.set_yticks(d_minor_y, [''] * len(d_minor_y), minor=True)
frame(ax)
ax.tick_params(axis='x', which='major', length=24, labelsize=22, pad=7)
ax.tick_params(axis='y', which='major', length=23, labelsize=22, pad=-5)
for sp in ax.spines.values():
    sp.set_visible(False)
ax.fill(*zip(*d_core), color='#00ffff', lw=0)
events(ax, d_cyan, '#00ffff', s=7)
events(ax, d_cyan_halo, '#00ffff', s=7)
events(ax, d_red, '#ff0000', s=7)
events(ax, d_green, '#00ff00', s=7)
ax.plot(*zip(*d_gate_classical), color='white', lw=2.6, zorder=6)
ax.plot(*zip(*d_gate_intermediate), color='white', lw=2.6, zorder=6)
ax.plot(*zip(*d_gate_nonclassical), color='white', lw=2.6, zorder=6)

# lone axis ends of panel D, staggered from the rest
txt(960, 1768, '-944', 22)
txt(886, 1683, '-308', 22, rot=90)

# axis titles and scale notes
txt(464, 694, 'FSC-A', 30)
txt(57, 300, 'FSC-H', 30, rot=90)
txt(714, 715, '(x 1,000)', 21)
txt(60, 84, '(x 1,000)', 21, rot=90)
txt(465, 1424, 'CD45 V500-A', 31)
txt(62, 1028, 'SSC-A', 31, rot=90)
txt(64, 818, '(x 1,000)', 21, rot=90)
txt(465, 2164, 'CD68 PE-Cy7-A', 31)
txt(62, 1769, 'SSC-A', 31, rot=90)
txt(65, 1557, '(x 1,000)', 21, rot=90)
txt(1684, 1775, 'CD16 FITC-A', 31)
txt(860, 1045, 'CD14 APC-H7-A', 31, rot=90)

# gate names
txt(333, 342, 'P1', 26)
txt(579, 1170, 'P2', 26)
txt(565, 1926, 'P3', 26)
txt(1394, 594, 'classicals', 27, color='white')
txt(1828, 597, 'intermediates', 27, color='white')
txt(1613, 1533, 'non-classicals', 27, color='white')

# panel letters
txt(79, 624, 'A.', 31, color='#10204a', fontweight='bold')
txt(71, 1385, 'B.', 31, color='#10204a', fontweight='bold')
txt(81, 2163, 'C.', 31, color='#10204a', fontweight='bold')
txt(890, 1827, 'D.', 31, color='#10204a', fontweight='bold')

fig.savefig('out.png', dpi=100, facecolor='white')
